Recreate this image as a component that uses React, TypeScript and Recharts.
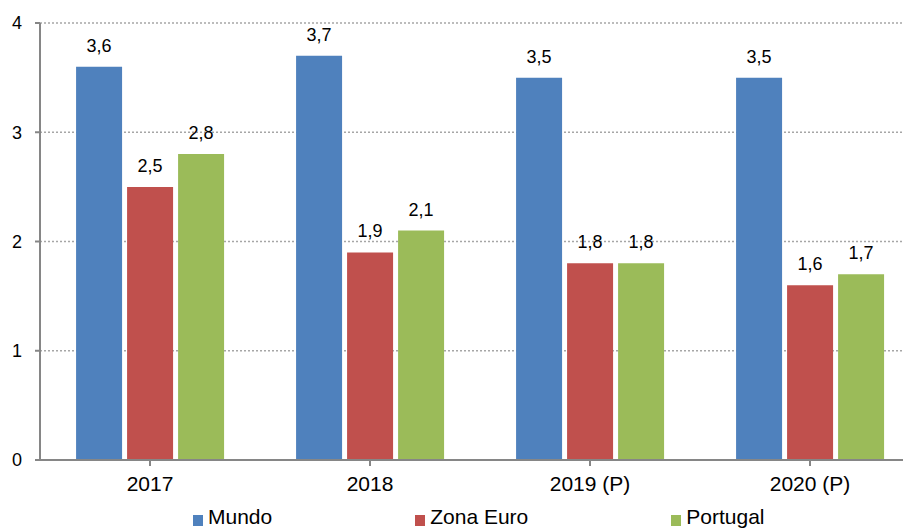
import { BarChart, Bar, XAxis, YAxis, CartesianGrid, Legend, LabelList } from "recharts";

const years = ["2017", "2018", "2019 (P)", "2020 (P)"];
const mundo = [3.6, 3.7, 3.5, 3.5];
const zonaEuro = [2.5, 1.9, 1.8, 1.6];
const portugal = [2.8, 2.1, 1.8, 1.7];
const yTicks = [0, 1, 2, 3, 4];

const seriesInfo = [
  { key: "mundo", name: "Mundo", color: "#4f81bd" },
  { key: "zonaEuro", name: "Zona Euro", color: "#c0504d" },
  { key: "portugal", name: "Portugal", color: "#9bbb59" },
];

const data = years.map((year, i) => ({
  year,
  mundo: mundo[i],
  zonaEuro: zonaEuro[i],
  portugal: portugal[i],
}));

const font = "'Liberation Sans', Arial, sans-serif";
const fmt = (v: any) => String(v).replace(".", ",");

function LegendContent() {
  return (
    <div style={{ display: "flex", justifyContent: "flex-start", height: 24, fontFamily: font, fontSize: 21, lineHeight: "24px", color: "#000", paddingLeft: 193 }}>
      {seriesInfo.map((s, i) => (
        <div key={s.key} style={{ display: "flex", alignItems: "center", marginRight: i < 2 ? 143 : 0 }}>
          <span style={{ display: "inline-block", width: 10, height: 11, background: s.color, marginRight: 5, marginTop: 6 }} />
          <span>{s.name}</span>
        </div>
      ))}
    </div>
  );
}

export default function App() {
  return (
    <div style={{ marginLeft: -8, marginTop: -8, width: 911, height: 528, overflow: "hidden" }}>
      <BarChart
        width={920}
        height={529}
        data={data}
        margin={{ top: 23, right: 0, left: 0, bottom: 0 }}
        barCategoryGap="16.4%"
        barGap={5}
      >
        <CartesianGrid vertical={false} stroke="#a6a6a6" strokeDasharray="2 2" strokeWidth={1.5} />
        <XAxis
          dataKey="year"
          height={45}
          tick={{ fill: "#000", fontSize: 21, fontFamily: font }}
          tickSize={6}
          tickMargin={10}
          axisLine={{ stroke: "#868686", strokeWidth: 2 }}
          tickLine={{ stroke: "#868686", strokeWidth: 2 }}
          interval={0}
        />
        <YAxis
          width={40}
          domain={[0, 4]}
          ticks={yTicks}
          tick={{ fill: "#000", fontSize: 18, fontFamily: font }}
          tickSize={5}
          tickMargin={13}
          axisLine={{ stroke: "#868686", strokeWidth: 2 }}
          tickLine={{ stroke: "#868686", strokeWidth: 2 }}
        />
        <Legend verticalAlign="bottom" content={() => <LegendContent />} />
        {seriesInfo.map((s) => (
          <Bar key={s.key} dataKey={s.key} name={s.name} fill={s.color} isAnimationActive={false}>
            <LabelList
              dataKey={s.key}
              position="top"
              offset={15}
              formatter={fmt}
              style={{ fill: "#000", fontSize: 18, fontFamily: font }}
            />
          </Bar>
        ))}
      </BarChart>
    </div>
  );
}
